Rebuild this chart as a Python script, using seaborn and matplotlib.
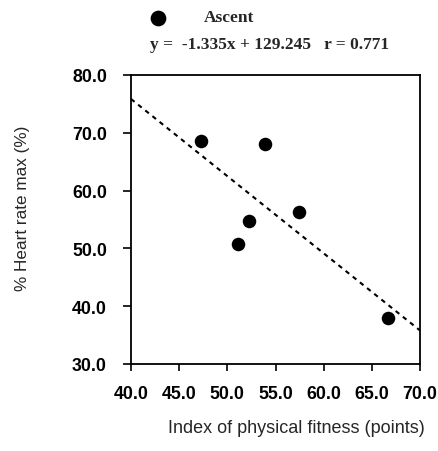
import matplotlib
matplotlib.use("Agg")
import matplotlib.pyplot as plt
import seaborn as sns
import numpy as np
import pandas as pd

# Data
fitness = [47.3, 53.9, 57.4, 52.3, 51.1, 66.7]
heart_rate = [68.6, 68.1, 56.3, 54.8, 50.7, 37.9]
slope = -1.335
intercept = 129.245
r_value = 0.771
series_label = "Ascent"
x_ticks = [40.0, 45.0, 50.0, 55.0, 60.0, 65.0, 70.0]
y_ticks = [30.0, 40.0, 50.0, 60.0, 70.0, 80.0]

sns.set_theme(style="ticks")
plt.rcParams['font.family'] = ['Liberation Sans', 'DejaVu Sans']

df = pd.DataFrame({"x": fitness, "y": heart_rate})

fig = plt.figure(figsize=(4.38, 4.52), dpi=100)
ax = fig.add_axes([0.299, 0.1925, 0.66, 0.6395])

sns.scatterplot(data=df, x="x", y="y", ax=ax, color="black", s=95,
                edgecolor="black", linewidth=0, zorder=3)

xl = np.array([x_ticks[0], x_ticks[-1]])
ax.plot(xl, slope * xl + intercept, color="black", linestyle=(0, (2.2, 2.2)),
        linewidth=1.5, zorder=2)

ax.set_xlim(x_ticks[0], x_ticks[-1])
ax.set_ylim(y_ticks[0], y_ticks[-1])
ax.set_xticks(x_ticks)
ax.set_yticks(y_ticks)
ax.set_xticklabels([f"{t:.1f}" for t in x_ticks])
ax.set_yticklabels([f"{t:.1f}" for t in y_ticks])

for lab in ax.get_xticklabels() + ax.get_yticklabels():
    lab.set_fontfamily(['Liberation Sans Narrow', 'Liberation Sans'])
    lab.set_fontweight('bold')
    lab.set_fontsize(12.8)

ax.tick_params(axis='x', direction='out', length=5, width=1.2, colors='black', pad=10)
ax.tick_params(axis='y', direction='out', length=5.8, width=1.2, colors='black', pad=11.5)
for sp in ax.spines.values():
    sp.set_visible(True)
    sp.set_color('black')
    sp.set_linewidth(1.3)

ax.set_xlabel("Index of physical fitness (points)", fontsize=13,
              family=['Liberation Sans', 'DejaVu Sans'])
ax.set_ylabel("% Heart rate max (%)", fontsize=12.3,
              family=['Liberation Sans', 'DejaVu Sans'])
ax.xaxis.set_label_coords(0.573, -0.2197)
ax.yaxis.set_label_coords(-0.375, 0.5415)
ax.xaxis.label.set_va('center')
ax.yaxis.label.set_va('center')

# Legend-like header
fig.add_artist(plt.Line2D([158/438], [1 - 19/452], marker='o', markersize=10.3,
                          color='black', linestyle='None', transform=fig.transFigure))
fig.text(204/438, 1 - 18/452, series_label, fontsize=12.5, fontweight='bold',
         family=['Liberation Serif', 'DejaVu Serif'], va='center', ha='left')
fig.text(150/438, 1 - 45/452,
         f"y =  {slope:.3f}x + {intercept:.3f}   r = {r_value:.3f}",
         fontsize=12.5, fontweight='bold', family=['Liberation Serif', 'DejaVu Serif'],
         va='center', ha='left')

fig.savefig("out.png", dpi=100)
